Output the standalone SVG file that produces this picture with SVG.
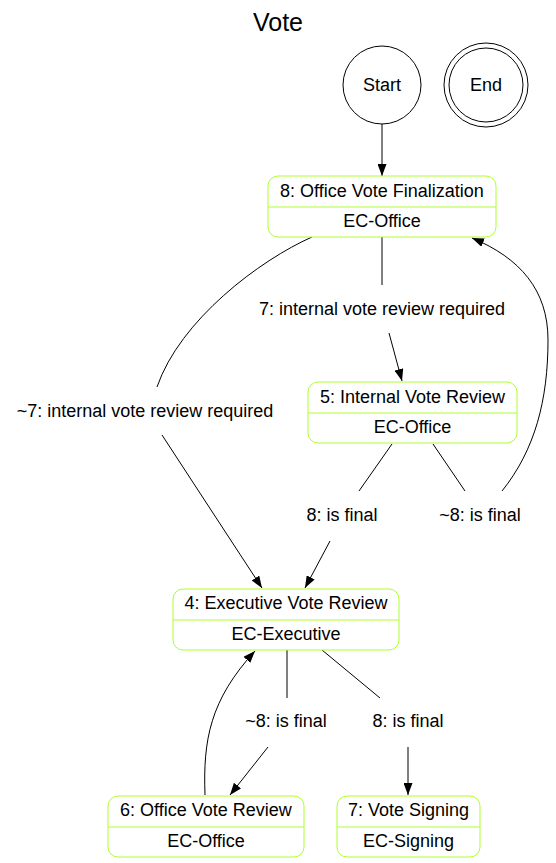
<svg xmlns="http://www.w3.org/2000/svg" width="556" height="863" viewBox="0 0 556 863">
<defs>
<marker id="ah" markerWidth="12" markerHeight="9" refX="12" refY="4.5" orient="auto" markerUnits="userSpaceOnUse">
<path d="M0,0 L12,4.5 L0,9 z" fill="#000"/>
</marker>
<style>
text{font-family:"Liberation Sans",Arial,sans-serif;font-size:18px;fill:#000;text-anchor:middle}
.title{font-size:25px}
.node{fill:#fff;stroke:#adff2f;stroke-width:1}
.div{stroke:#adff2f;stroke-width:1}
.circ{fill:#fff;stroke:#000;stroke-width:1}
.e{fill:none;stroke:#000;stroke-width:1}
.a{marker-end:url(#ah)}
</style>
</defs>
<rect width="556" height="863" fill="#fff"/>
<text class="title" x="278" y="31">Vote</text>
<g id="connectors">
<path class="e a" d="M382,124 L382,176"/>
<path class="e" d="M382,237 L382,285"/>
<path class="e a" d="M389,333 L402,381"/>
<path class="e" d="M312,237 C260,260 180,320 157,387"/>
<path class="e a" d="M162,435 L262,588"/>
<path class="e" d="M392,444 L359,491"/>
<path class="e a" d="M330,541 L305,588"/>
<path class="e" d="M433,444 L465,491"/>
<path class="e a" d="M502,491 C535,450 548,400 548,340 C548,290 520,258 472,238"/>
<path class="e" d="M287,650 L287,698"/>
<path class="e a" d="M268,747 L230,795"/>
<path class="e" d="M322,650 L380,698"/>
<path class="e a" d="M408,747 L408,795"/>
<path class="e a" d="M205,795 C203,740 210,700 255,651"/>
<text x="382" y="315">7: internal vote review required</text>
<text x="145" y="417">~7: internal vote review required</text>
<text x="342" y="521">8: is final</text>
<text x="480" y="521">~8: is final</text>
<text x="286" y="727">~8: is final</text>
<text x="408" y="727">8: is final</text>
</g>
<g id="start">
<circle class="circ" cx="382" cy="85" r="39"/>
<text x="382" y="91">Start</text>
</g>
<g id="end">
<circle class="circ" cx="486" cy="85" r="42"/>
<circle class="circ" cx="486" cy="85" r="37"/>
<text x="486" y="91">End</text>
</g>
<g id="n8">
<rect class="node" x="268" y="176" width="228" height="61" rx="10"/>
<line class="div" x1="268" y1="207" x2="496" y2="207"/>
<text x="382" y="197">8: Office Vote Finalization</text>
<text x="382" y="227">EC-Office</text>
</g>
<g id="n5">
<rect class="node" x="308" y="382" width="209" height="61" rx="10"/>
<line class="div" x1="308" y1="413" x2="517" y2="413"/>
<text x="412.5" y="403">5: Internal Vote Review</text>
<text x="412.5" y="433">EC-Office</text>
</g>
<g id="n4">
<rect class="node" x="173" y="589" width="226" height="61" rx="10"/>
<line class="div" x1="173" y1="620" x2="399" y2="620"/>
<text x="286" y="609">4: Executive Vote Review</text>
<text x="286" y="640">EC-Executive</text>
</g>
<g id="n6">
<rect class="node" x="108" y="796" width="196" height="61" rx="10"/>
<line class="div" x1="108" y1="827" x2="304" y2="827"/>
<text x="206" y="816">6: Office Vote Review</text>
<text x="206" y="847">EC-Office</text>
</g>
<g id="n7">
<rect class="node" x="337" y="796" width="143" height="61" rx="10"/>
<line class="div" x1="337" y1="827" x2="480" y2="827"/>
<text x="408.5" y="816">7: Vote Signing</text>
<text x="408.5" y="847">EC-Signing</text>
</g>
</svg>
